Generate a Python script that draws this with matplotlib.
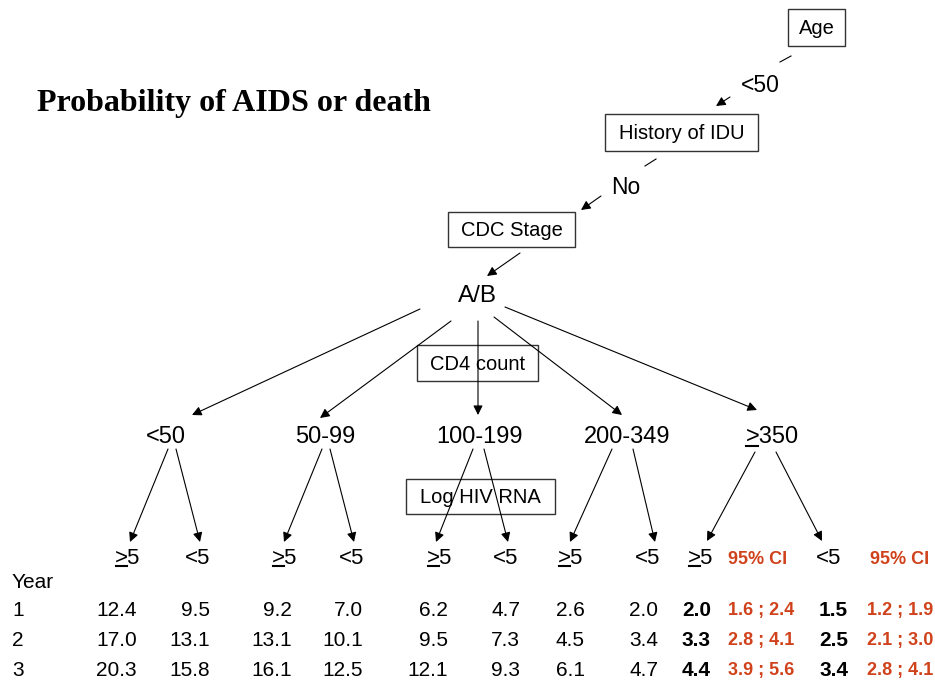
import matplotlib.pyplot as plt
from matplotlib.patches import Rectangle

# table data: rows are years 1..3
years = ['1', '2', '3']
rna_labels = ['>5', '<5']
cd4_labels = ['<50', '50-99', '100-199', '200-349', '>350']
risk_lt50 = [[12.4, 17.0, 20.3], [9.5, 13.1, 15.8]]
risk_50_99 = [[9.2, 13.1, 16.1], [7.0, 10.1, 12.5]]
risk_100_199 = [[6.2, 9.5, 12.1], [4.7, 7.3, 9.3]]
risk_200_349 = [[2.6, 4.5, 6.1], [2.0, 3.4, 4.7]]
risk_ge350 = [[2.0, 3.3, 4.4], [1.5, 2.5, 3.4]]
ci_ge350_ge5 = [(1.6, 2.4), (2.8, 4.1), (3.9, 5.6)]
ci_ge350_lt5 = [(1.2, 1.9), (2.1, 3.0), (2.8, 4.1)]

RED = '#D0421B'
SANS = 'Liberation Sans'

fig = plt.figure(figsize=(9.35, 6.82), dpi=100)
ax = fig.add_axes([0, 0, 1, 1])
ax.set_xlim(0, 935)
ax.set_ylim(682, 0)
ax.axis('off')
renderer = fig.canvas.get_renderer()


def txt(x, y, s, size=16, ha='center', **kw):
    kw.setdefault('family', SANS)
    return ax.text(x, y, s, fontsize=size, ha=ha, va='center', **kw)


def ul_text(x, y, s, size=16, underline=True):
    # draws s, underlining the first character (the ">" meaning >=)
    t = txt(x, y, s, size)
    if underline and s.startswith('>'):
        bb = t.get_window_extent(renderer)
        tmp = ax.text(0, 0, '>', fontsize=size, family=SANS)
        w = tmp.get_window_extent(renderer).width
        tmp.remove()
        inv = ax.transData.inverted()
        x0, y0 = inv.transform((bb.x0 + 1, bb.y0 + 2.5))
        x1, _ = inv.transform((bb.x0 + w - 1, bb.y0 + 2.5))
        ax.plot([x0, x1], [y0, y0], color='k', lw=1.5)
    return t


def box(x0, y0, x1, y1, label, size=14.5):
    ax.add_patch(Rectangle((x0, y0), x1 - x0, y1 - y0, fill=False, ec='#333333', lw=1))
    txt((x0 + x1) / 2, (y0 + y1) / 2 + 1, label, size)


def arrow(start, tip):
    ax.annotate('', xy=tip, xytext=start,
                arrowprops=dict(arrowstyle='-|>', color='k', lw=0.8,
                                mutation_scale=14, shrinkA=0, shrinkB=0))


def seg(p, q):
    ax.plot([p[0], q[0]], [p[1], q[1]], color='k', lw=0.8)


# title
ax.text(37, 104, 'Probability of AIDS or death', fontsize=23, fontweight='bold',
        family='Liberation Serif', ha='left', va='center')

# top of tree
box(788, 9, 845, 46, 'Age')
seg((791, 56), (780, 62))
txt(760, 85, '<50', 16.5)
arrow((730, 97), (716, 106))
box(605, 114, 758, 151, 'History of IDU')
seg((656, 159), (645, 166))
txt(626, 187, 'No', 16.5)
arrow((601, 196), (581, 210))
box(448, 212, 575, 247, 'CDC Stage')
arrow((520, 253), (487, 276))
txt(477, 296, 'A/B', 17.5)

# CD4 branches
cd4_x = [166, 325, 480, 627, 772]
ab_starts = [(420, 309), (451, 321), (478, 321), (494, 317), (505, 307)]
cd4_tips = [(192, 415), (320, 418), (478, 415), (622, 415), (757, 410)]
for s, t in zip(ab_starts, cd4_tips):
    arrow(s, t)
box(417, 345, 538, 381, 'CD4 count')
for x, lab in zip(cd4_x, cd4_labels):
    ul_text(x, 437, lab, 17)

# RNA branches
rna_starts = [(168, 449), (176, 449), (322, 449), (330, 449), (473, 449), (484, 449),
              (612, 449), (633, 449), (755, 452), (776, 452)]
rna_tips = [(130, 542), (200, 542), (284, 542), (354, 542), (436, 542), (508, 542),
            (570, 542), (655, 542), (707, 541), (822, 541)]
for s, t in zip(rna_starts, rna_tips):
    arrow(s, t)
box(406, 479, 555, 514, 'Log HIV RNA')

head_x = [128, 198, 285, 352, 440, 506, 571, 648, 701, 829]
for i, x in enumerate(head_x):
    ul_text(x, 558, rna_labels[i % 2], 16)
txt(728, 559, '95% CI', 13, ha='left', color=RED, fontweight='bold')
txt(870, 559, '95% CI', 13, ha='left', color=RED, fontweight='bold')

# table
txt(12, 582, 'Year', 15, ha='left')
row_y = [611, 640, 670]
col_right = [137, 210, 292, 363, 448, 520, 585, 658, 711, 848]
columns = risk_lt50 + risk_50_99 + risk_100_199 + risk_200_349 + risk_ge350
for r, y in enumerate(row_y):
    txt(12, y, years[r], 15, ha='left')
    for c, (xr, col) in enumerate(zip(col_right, columns)):
        bold = c >= 8
        txt(xr, y, f'{col[r]:.1f}', 15, ha='right',
            fontweight='bold' if bold else 'normal')
    lo, hi = ci_ge350_ge5[r]
    txt(728, y, f'{lo:.1f} ; {hi:.1f}', 13, ha='left', color=RED, fontweight='bold')
    lo, hi = ci_ge350_lt5[r]
    txt(867, y, f'{lo:.1f} ; {hi:.1f}', 13, ha='left', color=RED, fontweight='bold')

fig.savefig('out.png', dpi=100)
